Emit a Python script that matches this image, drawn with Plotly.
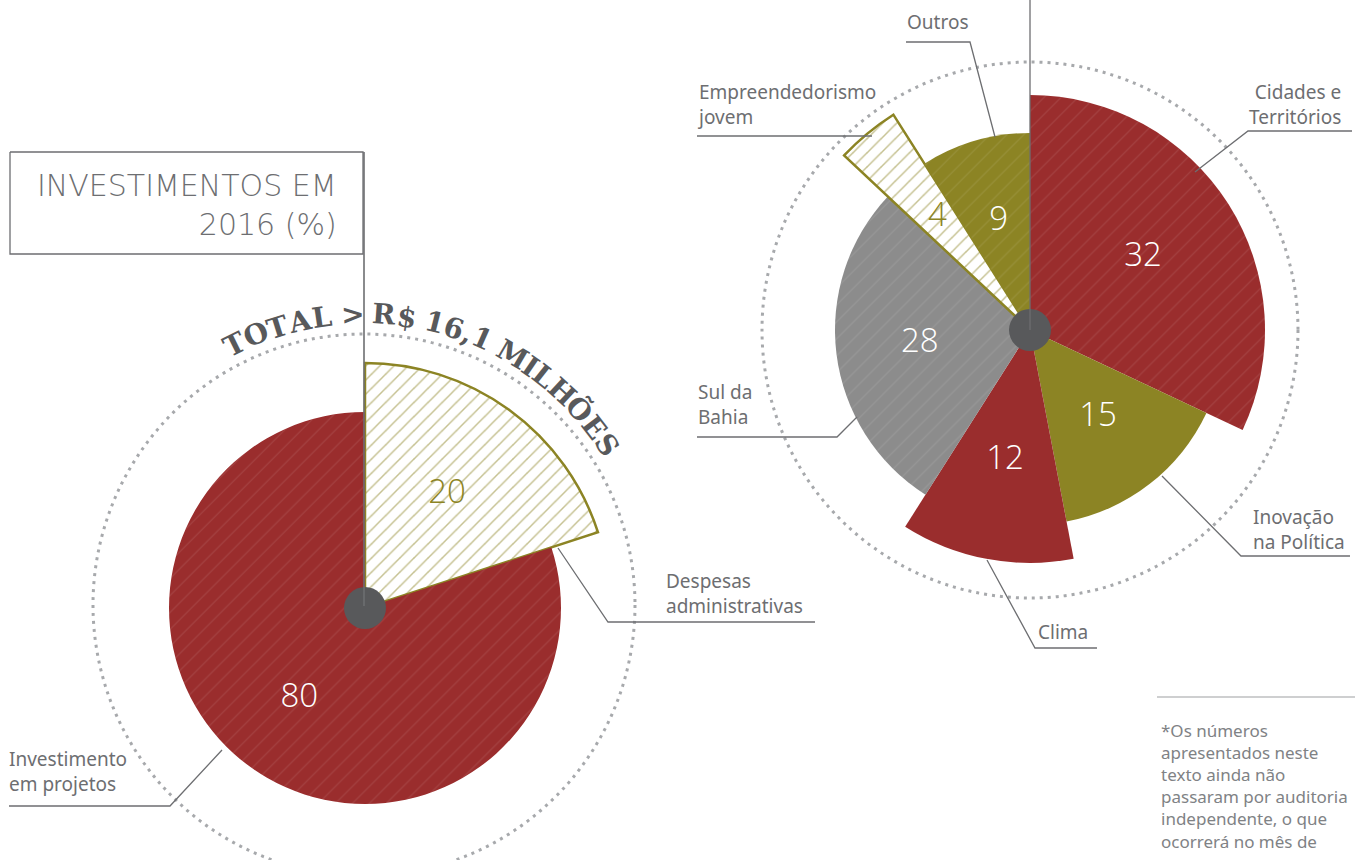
import math
import plotly.graph_objects as go

# ---------------- data ----------------
cat_esq = ["Despesas administrativas", "Investimento em projetos"]
pct_esq = [20, 80]
raio_esq = [245, 196]

cat_dir = ["Cidades e Territórios", "Inovação na Política", "Clima",
           "Sul da Bahia", "Empreendedorismo jovem", "Outros"]
pct_dir = [32, 15, 12, 28, 4, 9]
raio_dir = [235, 195, 233, 195, 255, 197]

titulo = ["INVESTIMENTOS EM", "2016 (%)"]
total_txt = "TOTAL > R$ 16,1 MILHÕES"
nota = ["*Os números", "apresentados neste", "texto ainda não",
        "passaram por auditoria", "independente, o que", "ocorrerá no mês de"]

# ---------------- styles ----------------
W, H = 1363, 860
RED = "#9a2d2d"
OLIVE = "#8c8424"
GRAY = "#8c8c8c"
DARK = "#58595b"
TXT = "#6d6e71"

style_esq = ["hatch", RED]
style_dir = [RED, OLIVE, RED, GRAY, "hatch", OLIVE]
pattern_dir = [True, False, False, True, True, True]
pattern_esq = [True, True]


def px(x):
    return x / W


def py(y):
    return 1 - y / H


fig = go.Figure()


def add_pie(vals, radii, styles, pats, cats, polar):
    start = 0.0
    for v, r, s, p, c in zip(vals, radii, styles, pats, cats):
        width = v * 3.6
        center = start + width / 2
        if s == "hatch":
            marker = dict(color="white",
                          line=dict(color=OLIVE, width=2.5),
                          pattern=dict(shape="/", fgcolor=OLIVE, bgcolor="white",
                                       size=10, solidity=0.15))
            tcol = OLIVE
        else:
            marker = dict(color=s, line=dict(color=s, width=0))
            if p:
                marker["pattern"] = dict(shape="/", fgcolor="rgba(255,255,255,0.22)",
                                         bgcolor=s, size=12, solidity=0.09)
            tcol = "white"
        fig.add_trace(go.Barpolar(r=[r], theta=[center], width=[width],
                                  marker=marker, name=c, subplot=polar,
                                  hoverinfo="name"))
        fig.add_trace(go.Scatterpolar(r=[r * 0.57], theta=[center], mode="text",
                                      text=[str(v)], subplot=polar,
                                      textfont=dict(family="Open Sans", size=33,
                                                    color=tcol, weight=300),
                                      hoverinfo="skip"))
        start += width
    fig.add_trace(go.Scatterpolar(r=[0], theta=[0], mode="markers", subplot=polar,
                                  marker=dict(size=42, color=DARK), hoverinfo="skip"))


add_pie(pct_esq, raio_esq, style_esq, pattern_esq, cat_esq, "polar")
add_pie(pct_dir, raio_dir, style_dir, pattern_dir, cat_dir, "polar2")


def polar_layout(cx, cy, R):
    return dict(
        domain=dict(x=[px(cx - R), px(cx + R)], y=[py(cy + R), py(cy - R)]),
        bgcolor="rgba(0,0,0,0)", bargap=0, hole=0,
        angularaxis=dict(visible=False, direction="clockwise", rotation=90,
                         showgrid=False, showline=False),
        radialaxis=dict(visible=False, range=[0, R], showgrid=False, showline=False),
    )


LCX, LCY = 365, 608
RCX, RCY = 1030, 330

shapes = []


def circle(cx, cy, r):
    shapes.append(dict(type="circle", xref="paper", yref="paper",
                       x0=px(cx - r), x1=px(cx + r), y0=py(cy + r), y1=py(cy - r),
                       line=dict(color="#a7a9ac", width=3, dash="3px,5px"),
                       layer="below"))


circle(364, 605, 271)
circle(RCX, RCY, 268)


def path(pts, color=TXT, width=1.3):
    d = "M " + " L ".join(f"{px(x):.5f},{py(y):.5f}" for x, y in pts)
    shapes.append(dict(type="path", xref="paper", yref="paper", path=d,
                       line=dict(color=color, width=width), layer="above"))


# title box and axis lines
path([(10, 152), (363, 152), (363, 254), (10, 254), (10, 152)])
path([(364, 152), (364, 606)], width=1.6)
path([(1030, 0), (1030, 330)], width=1.3)

# leader lines
path([(906, 42), (970, 42), (995, 137)])
path([(697, 136), (872, 136)])
path([(1352, 131), (1248, 131), (1195, 172)])
path([(1350, 556), (1241, 556), (1162, 476)])
path([(1097, 648), (1035, 648), (987, 560)])
path([(697, 437), (837, 437), (857, 417)])
path([(815, 622), (608, 622), (558, 548)])
path([(9, 806), (170, 806), (222, 750)])
path([(1157, 697), (1355, 697)], color="#9d9fa2", width=1.2)

annotations = []


def label(text, x, y, xanchor="left", yanchor="middle", size=19, align="left",
          color=TXT, family="Noto Sans", weight=None):
    f = dict(family=family, size=size, color=color)
    if weight:
        f["weight"] = weight
    annotations.append(dict(text=text, x=px(x), y=py(y), xref="paper", yref="paper",
                            xanchor=xanchor, yanchor=yanchor, showarrow=False,
                            align=align, font=f))


label("Outros", 905, 22)
label("Empreendedorismo<br>jovem", 695, 104.5)
label("Cidades e<br>Territórios", 1343, 104.5, xanchor="right", align="right")
label("Inovação<br>na Política", 1251, 529)
label("Clima", 1036, 632)
label("Sul da<br>Bahia", 696, 404.5)
label("Despesas<br>administrativas", 664, 593)
label("Investimento<br>em projetos", 7, 771)

label("<br>".join(nota), 1159, 717, yanchor="top", size=17, color="#808285")

label("<br>".join(titulo), 339, 205, xanchor="right", align="right", size=30,
      family="DejaVu Sans", weight=200)

# curved text along the arc
wtab = {"T": 0.74, "O": 0.84, "A": 0.82, "L": 0.7, " ": 0.32, ">": 0.72, "R": 0.82,
        "$": 0.68, "1": 0.66, "6": 0.68, ",": 0.36, "M": 1.0, "I": 0.46, "H": 0.88,
        "Õ": 0.84, "E": 0.74, "S": 0.7}
ws = [wtab.get(c, 0.7) for c in total_txt]
a0, a1, RT = -28.5, 58.5, 291
tot = sum(ws)
acc = 0.0
for c, w in zip(total_txt, ws):
    ang = a0 + (a1 - a0) * (acc + w / 2) / tot
    acc += w
    if c == " ":
        continue
    rad = math.radians(ang)
    x = 364 + RT * math.sin(rad)
    y = 605 - RT * math.cos(rad)
    annotations.append(dict(text=c, x=px(x), y=py(y), xref="paper", yref="paper",
                            xanchor="center", yanchor="middle", showarrow=False,
                            textangle=ang,
                            font=dict(family="DejaVu Serif", size=28, color=DARK,
                                      weight=800)))

fig.update_layout(
    width=W, height=H,
    margin=dict(l=0, r=0, t=0, b=0),
    paper_bgcolor="white", plot_bgcolor="white",
    showlegend=False,
    polar=polar_layout(LCX, LCY, 248),
    polar2=polar_layout(RCX, RCY, 262),
    shapes=shapes,
    annotations=annotations,
)

fig.write_html("out.html",
               config={"displayModeBar": False},
               post_script="document.body.style.margin='0px';"
                           "document.body.style.overflow='hidden';")
